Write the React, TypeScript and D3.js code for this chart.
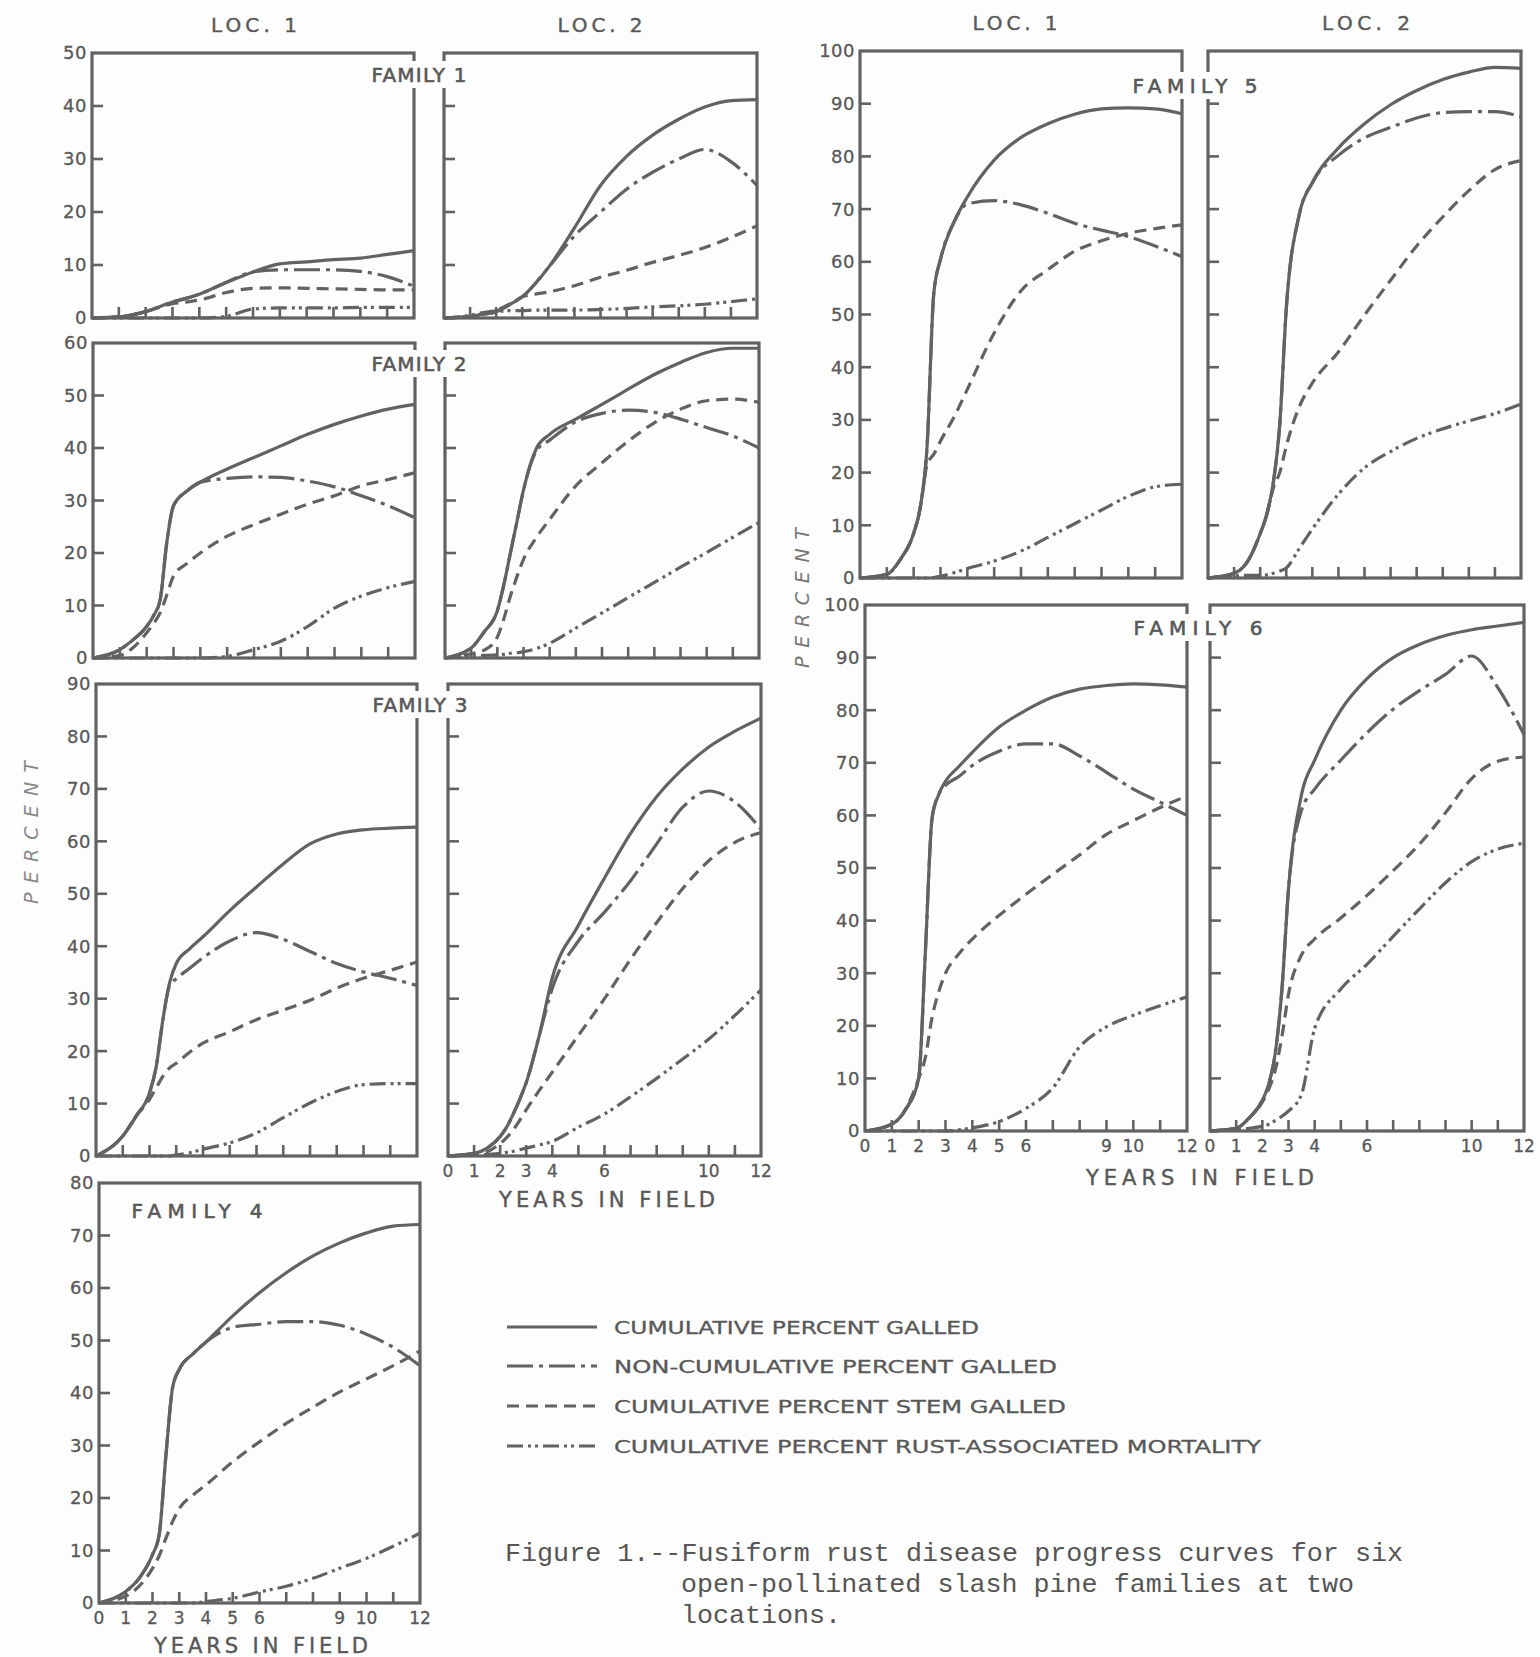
import React from "react";
import * as d3 from "d3";

const YEARS = [0, 1, 1.5, 2, 2.25, 2.5, 2.75, 3, 3.5, 4, 5, 6, 7, 8, 9, 10, 11, 12];

// family 1
const F1_L1_GALLED = [0, 0.2, 0.6, 1.2, 1.6, 2.1, 2.6, 3, 3.7, 4.5, 6.7, 8.7, 10.2, 10.6, 11, 11.3, 12, 12.7];
const F1_L1_NONCUM = [0, 0.2, 0.6, 1.2, 1.6, 2.1, 2.6, 3, 3.7, 4.5, 6.7, 8.7, 9.1, 9.1, 9.1, 8.8, 7.8, 6];
const F1_L1_STEM = [0, 0.2, 0.6, 1.2, 1.6, 2, 2.4, 2.7, 3, 3.4, 4.8, 5.6, 5.7, 5.6, 5.5, 5.4, 5.3, 5.3];
const F1_L1_MORT = [0, 0, 0, 0, 0, 0, 0, 0, 0, 0, 0.3, 1.7, 1.9, 1.9, 1.9, 2, 2, 2];
const F1_L2_GALLED = [0, 0.3, 0.7, 1.2, 1.8, 2.5, 3.2, 4, 6.5, 9.5, 17, 25, 30.5, 34.5, 37.5, 39.8, 41, 41.2];
const F1_L2_NONCUM = [0, 0.3, 0.7, 1.2, 1.8, 2.5, 3.2, 4, 6.5, 9.5, 15.5, 20, 24.3, 27.5, 30, 31.8, 29.5, 25];
const F1_L2_STEM = [0, 0.3, 0.7, 1.4, 2, 2.6, 3.3, 4, 4.5, 4.9, 6.1, 7.7, 9, 10.5, 11.8, 13.3, 15.2, 17.4];
const F1_L2_MORT = [0, 0.5, 1, 1.3, 1.3, 1.4, 1.4, 1.4, 1.5, 1.5, 1.5, 1.6, 1.8, 2.1, 2.3, 2.6, 3.1, 3.6];

// family 2
const F2_L1_GALLED = [0, 1.6, 3.5, 6, 8, 11, 22, 29, 31.8, 33.5, 36, 38.2, 40.4, 42.6, 44.5, 46.1, 47.4, 48.3];
const F2_L1_NONCUM = [0, 1.6, 3.5, 6, 8, 11, 22, 29, 31.8, 33.5, 34.2, 34.5, 34.4, 33.7, 32.6, 30.9, 29, 26.7];
const F2_L1_STEM = [0, 0.5, 2, 4.8, 6.5, 8.6, 12, 15.6, 18, 20, 23.2, 25.4, 27.4, 29.3, 30.9, 32.8, 34, 35.3];
const F2_L1_MORT = [0, 0, 0, 0, 0, 0, 0, 0, 0, 0, 0.3, 1.6, 3.2, 6, 9.5, 11.8, 13.4, 14.6];
const F2_L2_GALLED = [0, 1.9, 5, 9, 14, 20, 26, 32, 40, 42.6, 45.5, 48.3, 51.2, 54, 56.3, 58.2, 59, 59];
const F2_L2_NONCUM = [0, 1.9, 5, 9, 14, 20, 26, 32, 39.5, 41.5, 45, 46.6, 47.2, 46.8, 45.5, 43.9, 42.3, 40];
const F2_L2_STEM = [0, 0.8, 1.5, 4, 7.5, 11.8, 15.5, 18.8, 23, 26.4, 32.8, 37.2, 41.3, 44.8, 47.4, 49, 49.3, 48.7];
const F2_L2_MORT = [0, 0.4, 0.5, 0.6, 0.7, 0.9, 1, 1.2, 1.8, 2.8, 5.7, 8.6, 11.5, 14.4, 17.3, 20.1, 23, 25.8];

// family 3
const F3_L1_GALLED = [0, 3.8, 7.6, 12, 17, 26, 33, 36.7, 39.5, 41.8, 46.8, 51.3, 55.7, 59.5, 61.4, 62.2, 62.5, 62.7];
const F3_L1_NONCUM = [0, 3.8, 7.6, 12, 17, 26, 32.5, 33.8, 35.8, 37.8, 41, 42.6, 41.3, 39, 36.7, 35.1, 33.9, 32.5];
const F3_L1_STEM = [0, 3.8, 7.6, 10.8, 13, 15.2, 16.8, 17.7, 19.8, 21.5, 23.7, 26, 27.8, 29.7, 32, 33.9, 35.4, 37];
const F3_L1_MORT = [0, 0, 0, 0, 0, 0, 0, 0.2, 0.6, 1.3, 2.5, 4.4, 7.3, 10.1, 12.3, 13.6, 13.8, 13.8];
const F3_L2_GALLED = [0, 0.5, 1.5, 3.7, 5.5, 8, 10.8, 14, 23, 34, 44, 53, 61.5, 68.5, 73.8, 78, 81, 83.5];
const F3_L2_NONCUM = [0, 0.5, 1.5, 3.7, 5.5, 8, 10.8, 14, 23, 32, 41, 46.5, 52.5, 59.5, 66.5, 69.6, 67.5, 62.3];
const F3_L2_STEM = [0, 0.3, 0.8, 2.4, 3.5, 5, 6.8, 8.8, 12.5, 16, 23, 30, 37.5, 44.5, 51, 56.3, 59.8, 61.7];
const F3_L2_MORT = [0, 0.2, 0.3, 0.5, 0.7, 0.9, 1.2, 1.5, 2.1, 2.8, 5.5, 8, 11.3, 14.8, 18.5, 22.3, 26.8, 31.7];

// family 4 (loc. 1 only)
const F4_GALLED = [0, 2.2, 4.7, 9.2, 13, 28, 41, 44.5, 47.4, 49.7, 54.7, 59.1, 62.9, 66.1, 68.6, 70.5, 71.8, 72.1];
const F4_NONCUM = [0, 2.2, 4.7, 9.2, 13, 28, 41, 44.5, 47.4, 49.7, 52.5, 53.1, 53.6, 53.6, 52.9, 51.2, 48.7, 45.2];
const F4_STEM = [0, 1.3, 3.2, 6.6, 9, 12.3, 15.5, 18, 20.5, 22.5, 26.9, 30.7, 34.2, 37.3, 40.2, 42.7, 45.2, 48];
const F4_MORT = [0, 0, 0, 0, 0, 0, 0, 0, 0, 0.3, 0.9, 2.1, 3.2, 4.7, 6.6, 8.5, 10.8, 13.3];

// family 5
const F5_L1_GALLED = [0, 0.7, 3.5, 8.5, 13.5, 25, 54, 60.5, 67.5, 72.3, 79.3, 83.6, 86.2, 88, 89, 89.2, 89, 88.1];
const F5_L1_NONCUM = [0, 0.7, 3.5, 8.5, 13.5, 25, 54, 60.5, 67.5, 71, 71.6, 70.8, 69.2, 67.3, 66, 64.8, 63, 61];
const F5_L1_STEM = [0, 0.7, 3.5, 8.5, 13.5, 21.5, 23.5, 26, 30.5, 35.8, 46.5, 54.5, 58.5, 62, 64, 65.4, 66.3, 67];
const F5_L1_MORT = [0, 0, 0, 0, 0, 0, 0.1, 0.3, 1, 1.8, 3.2, 5.1, 7.7, 10.3, 12.9, 15.5, 17.3, 17.8];
const F5_L2_GALLED = [0, 0.9, 3, 8.4, 12, 18, 29, 51, 69, 75, 81.6, 86.2, 89.8, 92.5, 94.6, 96, 96.9, 96.7];
const F5_L2_NONCUM = [0, 0.9, 3, 8.4, 12, 18, 29, 51, 69, 75, 80.2, 83.5, 85.5, 87.3, 88.3, 88.5, 88.5, 87.5];
const F5_L2_STEM = [0, 0.9, 3, 8.4, 12, 17, 20, 25, 32.5, 37, 42.9, 49.9, 56.5, 63, 68.5, 73.5, 77.5, 79.2];
const F5_L2_MORT = [0, 0.4, 0.5, 0.5, 0.6, 0.9, 1.3, 1.9, 5.6, 9.3, 15.9, 20.9, 24, 26.5, 28.3, 29.8, 31.2, 33];

// family 6
const F6_L1_GALLED = [0, 1.3, 4, 10, 34, 59.5, 64, 66.5, 69.3, 72, 76.8, 80, 82.5, 84, 84.7, 85, 84.8, 84.4];
const F6_L1_NONCUM = [0, 1.3, 4, 10, 34, 59.5, 64, 65.7, 67.4, 69.5, 72.2, 73.6, 73.6, 71.3, 68.2, 65, 62.5, 60];
const F6_L1_STEM = [0, 1.3, 4, 10, 14, 21.6, 26.5, 30, 33.7, 36.5, 41, 45, 48.8, 52.5, 56.4, 59, 61.5, 63.7];
const F6_L1_MORT = [0, 0, 0, 0, 0, 0, 0, 0, 0.2, 0.6, 1.8, 4.3, 8.2, 16, 19.8, 22, 23.8, 25.5];
const F6_L2_GALLED = [0, 0.5, 2.5, 5.8, 9, 15, 27, 46, 64, 70.5, 80, 86, 90, 92.5, 94.2, 95.3, 96, 96.7];
const F6_L2_NONCUM = [0, 0.5, 2.5, 5.8, 9, 15, 27, 46, 61, 65, 70.5, 75.7, 80.2, 83.7, 86.8, 90.3, 84.3, 75.4];
const F6_L2_STEM = [0, 0.5, 2.5, 5.5, 8, 11.7, 18, 26, 33.5, 36.5, 40.5, 44.8, 49.5, 54.5, 60.5, 67, 70.3, 71.1];
const F6_L2_MORT = [0, 0.3, 0.5, 0.9, 1.3, 2, 2.8, 3.8, 7, 19.5, 27, 31.7, 37, 42.2, 47.2, 51.2, 53.6, 54.7];

const FAMILY_LABELS = ["FAMILY 1", "FAMILY 2", "FAMILY 3", "FAMILY 4", "FAMILY 5", "FAMILY 6"];
const FAMILY_MAX = [50, 60, 90, 80, 100, 100];
const LOC_LABELS = ["LOC. 1", "LOC. 2"];
const X_LABELS_SHORT = [0, 1, 2, 3, 4, 6, 10, 12];
const X_LABELS_LONG = [0, 1, 2, 3, 4, 5, 6, 9, 10, 12];
const LEGEND_LABELS = [
  "CUMULATIVE PERCENT GALLED",
  "NON-CUMULATIVE PERCENT GALLED",
  "CUMULATIVE PERCENT STEM GALLED",
  "CUMULATIVE PERCENT RUST-ASSOCIATED MORTALITY",
];
const CAPTION = [
  "Figure 1.--Fusiform rust disease progress curves for six",
  "open-pollinated slash pine families at two",
  "locations.",
];

// layout (pixels)
const W = 1540;
const H = 1657;
const INK = "#626262";
const TXT = "#585858";
const FONT = "'DejaVu Sans', sans-serif";
const DASHES = ["", "26 6 4 6", "12 7", "16 5 3 4 3 5"];

const PANELS = [
  { fam: 0, loc: 0, x0: 92, x1: 414, y0: 53, y1: 318, data: [F1_L1_GALLED, F1_L1_NONCUM, F1_L1_STEM, F1_L1_MORT] },
  { fam: 0, loc: 1, x0: 444, x1: 757, y0: 53, y1: 318, data: [F1_L2_GALLED, F1_L2_NONCUM, F1_L2_STEM, F1_L2_MORT] },
  { fam: 1, loc: 0, x0: 93, x1: 415, y0: 343, y1: 658, data: [F2_L1_GALLED, F2_L1_NONCUM, F2_L1_STEM, F2_L1_MORT] },
  { fam: 1, loc: 1, x0: 445, x1: 759, y0: 343, y1: 658, data: [F2_L2_GALLED, F2_L2_NONCUM, F2_L2_STEM, F2_L2_MORT] },
  { fam: 2, loc: 0, x0: 96, x1: 417, y0: 684, y1: 1156, data: [F3_L1_GALLED, F3_L1_NONCUM, F3_L1_STEM, F3_L1_MORT] },
  { fam: 2, loc: 1, x0: 448, x1: 761, y0: 684, y1: 1156, xl: X_LABELS_SHORT, data: [F3_L2_GALLED, F3_L2_NONCUM, F3_L2_STEM, F3_L2_MORT] },
  { fam: 3, loc: 0, x0: 99, x1: 420, y0: 1183, y1: 1603, xl: X_LABELS_LONG, data: [F4_GALLED, F4_NONCUM, F4_STEM, F4_MORT] },
  { fam: 4, loc: 0, x0: 860, x1: 1182, y0: 51, y1: 578, data: [F5_L1_GALLED, F5_L1_NONCUM, F5_L1_STEM, F5_L1_MORT] },
  { fam: 4, loc: 1, x0: 1208, x1: 1521, y0: 51, y1: 578, data: [F5_L2_GALLED, F5_L2_NONCUM, F5_L2_STEM, F5_L2_MORT] },
  { fam: 5, loc: 0, x0: 865, x1: 1187, y0: 605, y1: 1131, xl: X_LABELS_LONG, data: [F6_L1_GALLED, F6_L1_NONCUM, F6_L1_STEM, F6_L1_MORT] },
  { fam: 5, loc: 1, x0: 1210, x1: 1524, y0: 605, y1: 1131, xl: X_LABELS_SHORT, data: [F6_L2_GALLED, F6_L2_NONCUM, F6_L2_STEM, F6_L2_MORT] },
];

// label centre, baseline and drawn width
const FAMILY_POS = [[419, 82, 95], [419, 371, 95], [420, 712, 95], [197, 1218, 131], [1195, 93, 125], [1198, 635, 129]];
const LOC_POS = [[254, 32, 86], [600, 32, 85], [1015, 30, 85], [1366, 30, 88]];
const YEARS_POS = [[607, 1207, 216], [261, 1653, 214], [1200, 1185, 228]];
const LEGEND_Y = [1327, 1366, 1406, 1446];
const LEGEND_W = [365, 443, 452, 647];

function Panel({ p }: any) {
  const max = FAMILY_MAX[p.fam];
  const x = d3.scaleLinear().domain([0, 12]).range([p.x0, p.x1]);
  const y = d3.scaleLinear().domain([0, max]).range([p.y1, p.y0]);
  const line = d3
    .line<number>()
    .x((_, i) => x(YEARS[i]))
    .y((d) => y(d))
    .curve(d3.curveMonotoneX);
  const yTicks = d3.range(10, max, 10);
  const xTicks = d3.range(1, 12);
  return (
    <g>
      {p.data.map((s: number[], i: number) => (
        <path key={i} d={line(s) || ""} fill="none" stroke={INK} strokeWidth={3.2}
          strokeDasharray={DASHES[i] || undefined} />
      ))}
      <rect x={p.x0} y={p.y0} width={p.x1 - p.x0} height={p.y1 - p.y0} fill="none" stroke={INK} strokeWidth={3.2} />
      {yTicks.map((t) => (
        <line key={"y" + t} x1={p.x0} x2={p.x0 + 11} y1={y(t)} y2={y(t)} stroke={INK} strokeWidth={2.6} />
      ))}
      {xTicks.map((t) => (
        <line key={"x" + t} x1={x(t)} x2={x(t)} y1={p.y1} y2={p.y1 - 11} stroke={INK} strokeWidth={2.6} />
      ))}
      {p.loc === 0 &&
        d3.range(0, max + 1, 10).map((t) => (
          <text key={"yl" + t} x={p.x0 - 5} y={y(t)} dy="0.36em" textAnchor="end"
            fontSize={18} letterSpacing={0.5} fill={TXT} stroke={TXT} strokeWidth={0.3} fontFamily={FONT}>{t}</text>
        ))}
      {p.xl &&
        p.xl.map((t: number) => (
          <text key={"xl" + t} x={x(t)} y={p.y1 + 21} textAnchor="middle"
            fontSize={17} fill={TXT} stroke={TXT} strokeWidth={0.3} fontFamily={FONT}>{t}</text>
        ))}
    </g>
  );
}

export default function App() {
  return (
    <svg width={W} height={H} style={{ position: "absolute", left: 0, top: 0 }}>
      <rect width={W} height={H} fill="#fdfdfd" />
      {PANELS.map((p, i) => (
        <Panel key={i} p={p} />
      ))}
      {FAMILY_LABELS.map((f, i) => {
        const [cx, by, w] = FAMILY_POS[i];
        return (
          <g key={f}>
            {i !== 3 && <rect x={cx - w / 2 - 4} y={by - 21} width={w + 8} height={27} fill="#fdfdfd" />}
            <text x={cx - w / 2} y={by} fontSize={20} textLength={w} lengthAdjust="spacing"
              fill={TXT} stroke={TXT} strokeWidth={0.6} fontFamily={FONT}>{f}</text>
          </g>
        );
      })}
      {LOC_POS.map(([cx, by, w], i) => (
        <text key={"loc" + i} x={cx - w / 2} y={by} fontSize={20} textLength={w} lengthAdjust="spacing"
          fill={TXT} stroke={TXT} strokeWidth={0.4} fontFamily={FONT}>{LOC_LABELS[i % 2]}</text>
      ))}
      {YEARS_POS.map(([cx, by, w], i) => (
        <text key={"yr" + i} x={cx - w / 2} y={by} fontSize={21} textLength={w} lengthAdjust="spacing"
          fill={TXT} stroke={TXT} strokeWidth={0.4} fontFamily={FONT}>YEARS IN FIELD</text>
      ))}
      <text transform="translate(38,832) rotate(-90)" x={-72} fontSize={19} fontStyle="italic"
        textLength={143} lengthAdjust="spacing" fill="#8a8a8a" fontFamily={FONT}>PERCENT</text>
      <text transform="translate(809,598) rotate(-90)" x={-70} fontSize={19} fontStyle="italic"
        textLength={140} lengthAdjust="spacing" fill="#777" fontFamily={FONT}>PERCENT</text>
      {LEGEND_LABELS.map((l, i) => (
        <g key={l}>
          <line x1={507} x2={597} y1={LEGEND_Y[i]} y2={LEGEND_Y[i]} stroke={INK} strokeWidth={3.2}
            strokeDasharray={DASHES[i] || undefined} />
          <text x={614} y={LEGEND_Y[i] + 7} fontSize={18} fill={TXT} stroke={TXT} strokeWidth={0.3} fontFamily={FONT}
            textLength={LEGEND_W[i]} lengthAdjust="spacingAndGlyphs">{l}</text>
        </g>
      ))}
      {CAPTION.map((c, i) => (
        <text key={i} x={i === 0 ? 505 : 681} y={1561 + i * 31} fontSize={25} fill="#555"
          fontFamily="'Liberation Mono', monospace"
          textLength={[898, 673, 160][i]} lengthAdjust="spacingAndGlyphs">{c}</text>
      ))}
    </svg>
  );
}
